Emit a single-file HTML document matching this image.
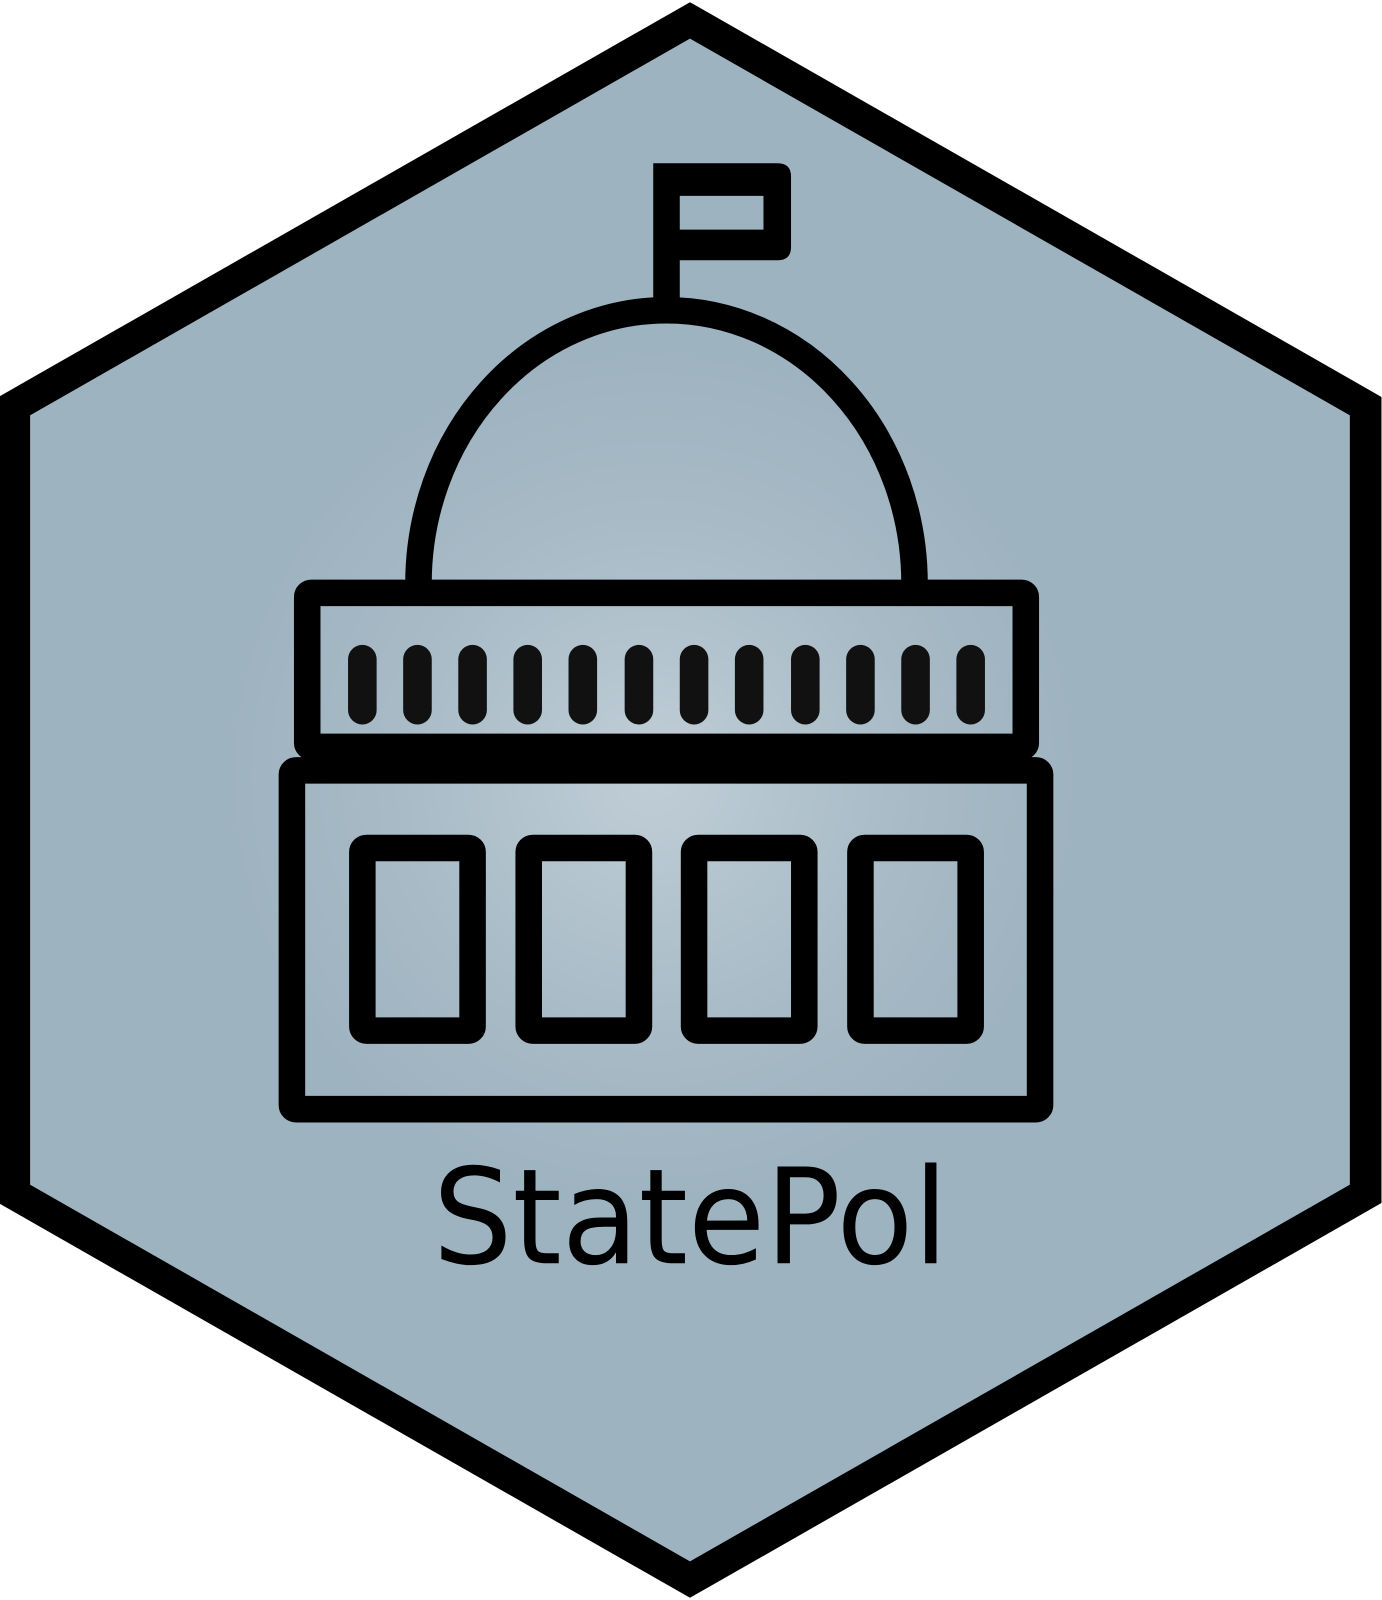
<!DOCTYPE html>
<html><head><meta charset="utf-8"><style>
html,body{margin:0;padding:0;background:#fff;}
svg{display:block;}
</style></head><body>
<svg width="1382" height="1600" viewBox="0 0 1354 1568" preserveAspectRatio="none" xmlns="http://www.w3.org/2000/svg">
<defs>
<radialGradient id="g" cx="640" cy="760" r="420" gradientUnits="userSpaceOnUse">
<stop offset="0" stop-color="#ffffff" stop-opacity="0.35"/>
<stop offset="0.6" stop-color="#ffffff" stop-opacity="0.1"/>
<stop offset="1" stop-color="#ffffff" stop-opacity="0"/>
</radialGradient>
</defs>
<polygon points="676,20 1338,398 1338,1170 676,1548 14,1170 14,398" fill="#9eb3c0" stroke="#000" stroke-width="31" stroke-linejoin="miter"/>
<circle cx="640" cy="760" r="420" fill="url(#g)"/>
<path fill="#000" fill-rule="evenodd" d="M640,160 H762 Q775,160 775,173 V242 Q775,255 762,255 H666 V295 H640 Z M666,192 V225 H748 V192 Z"/>
<g fill="none" stroke="#000" stroke-width="26" stroke-linejoin="round">
<path d="M410,572 A243,268 0 0 1 896,572"/>
<rect x="301" y="581" width="704" height="151" rx="4"/>
<rect x="286" y="755" width="733" height="332" rx="4"/>
<rect x="355" y="831" width="108" height="179" rx="4"/>
<rect x="518" y="831" width="108" height="179" rx="4"/>
<rect x="680" y="831" width="108" height="179" rx="4"/>
<rect x="843" y="831" width="108" height="179" rx="4"/>
</g>
<g stroke="#111" stroke-width="28" stroke-linecap="round">
<line x1="355" y1="646" x2="355" y2="696"/>
<line x1="409" y1="646" x2="409" y2="696"/>
<line x1="463" y1="646" x2="463" y2="696"/>
<line x1="517" y1="646" x2="517" y2="696"/>
<line x1="571" y1="646" x2="571" y2="696"/>
<line x1="626" y1="646" x2="626" y2="696"/>
<line x1="680" y1="646" x2="680" y2="696"/>
<line x1="734" y1="646" x2="734" y2="696"/>
<line x1="789" y1="646" x2="789" y2="696"/>
<line x1="843" y1="646" x2="843" y2="696"/>
<line x1="897" y1="646" x2="897" y2="696"/>
<line x1="951" y1="646" x2="951" y2="696"/>
</g>
<text x="424" y="1238" font-family="DejaVu Sans, Liberation Sans, sans-serif" font-size="130" textLength="505" lengthAdjust="spacingAndGlyphs" fill="#000">StatePol</text>
</svg>
</body></html>
